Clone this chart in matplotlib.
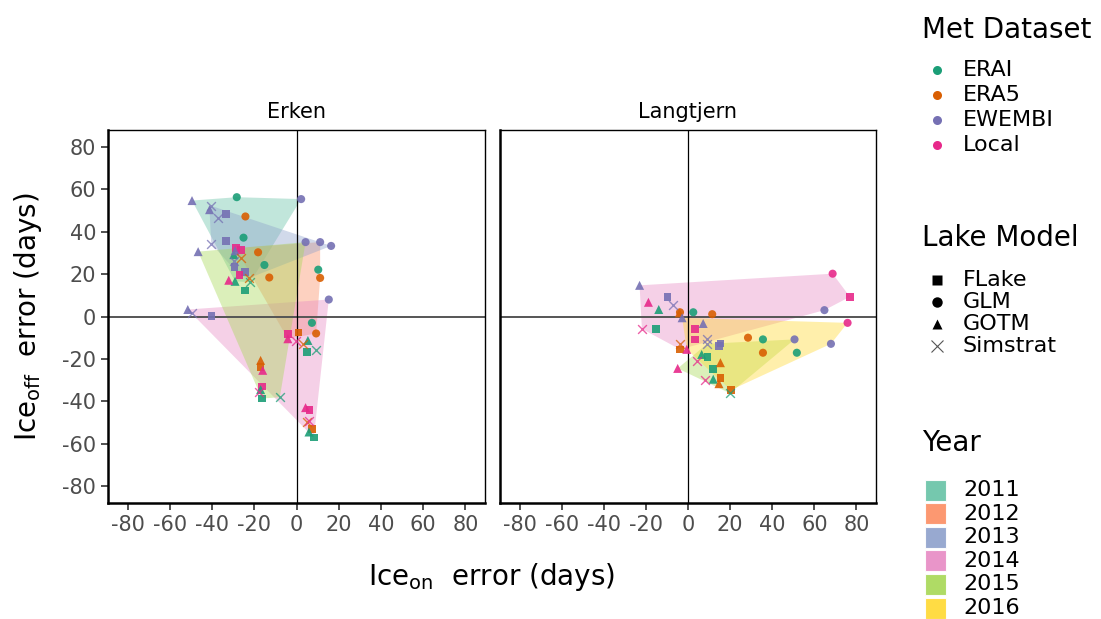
#
# Ice-on vs ice-off error per lake, coloured by met dataset, shaped by lake model,
# with a convex hull per year.
#

import numpy as np
import matplotlib
matplotlib.use('Agg')
from matplotlib import pyplot as plt
from matplotlib.patches import Polygon, Rectangle

met_names = ['ERAI', 'ERA5', 'EWEMBI', 'Local']
model_names = ['FLake', 'GLM', 'GOTM', 'Simstrat']
years = [2011, 2012, 2013, 2014, 2015, 2016]

# Erken (grouped by year)
erken_x = [-49.5, -28.3, 2.2, -21.9, -37.3, -24.2, -33.3, -29.1, -25.1, -26.2,          # 2011
           -28.6, 11.2, 11.2, 9.3, 1.0, -4.1, -4.1, -18.2, -26.2, -12.9, 10.3,          # 2012
           -41.2, -40.4, 16.4, -33.3, -29.5, -24.3, -22.3, -27.0, -29.1, -40.4,         # 2013
           -51.5, -49.4, -40.3, 15.3, 7.3, -0.2, 5.4, 5.1, 9.3, 3.0, 4.3, 6.2, 5.7,
           5.2, 7.3, 5.9, 8.2,                                                         # 2014
           -46.6, 4.3, -7.9, -16.3, -17.0, -16.3, -17.8, -15.2, -29.4, -32.1, -17.0,
           -17.0, -16.0, -29.7, -24.3]                                                 # 2015
erken_y = [54.7, 56.3, 55.4, 16.2, 46.4, 47.2, 48.5, 16.6, 37.2, 31.5,
           32.3, 35.1, 18.2, -8.0, -7.6, -8.2, -10.5, 30.3, 27.6, 18.4, 22.1,
           50.4, 52.2, 33.3, 35.5, 26.0, 21.0, 18.2, 19.5, 31.0, 34.4,
           3.3, 1.7, 0.2, 8.0, -3.0, -11.6, -11.3, -16.8, -16.0, -13.2, -43.0, -44.1, -49.3,
           -49.8, -53.2, -54.5, -57.1,
           30.6, 35.1, -38.1, -38.7, -34.5, -33.1, -35.5, 24.3, 23.4, 17.1, -20.7,
           -23.8, -25.4, 29.2, 12.2]
erken_met = ['EWEMBI', 'ERAI', 'EWEMBI', 'ERAI', 'EWEMBI', 'ERA5', 'EWEMBI', 'ERAI', 'ERAI', 'Local',
             'Local', 'EWEMBI', 'ERA5', 'ERA5', 'ERA5', 'Local', 'Local', 'ERA5', 'ERA5', 'ERA5', 'ERAI',
             'EWEMBI', 'EWEMBI', 'EWEMBI', 'EWEMBI', 'EWEMBI', 'EWEMBI', 'ERA5', 'Local', 'EWEMBI', 'EWEMBI',
             'EWEMBI', 'EWEMBI', 'EWEMBI', 'EWEMBI', 'ERAI', 'Local', 'ERAI', 'ERAI', 'ERAI', 'ERA5',
             'Local', 'Local', 'Local', 'ERA5', 'ERA5', 'ERAI', 'ERAI',
             'EWEMBI', 'EWEMBI', 'ERAI', 'ERAI', 'ERAI', 'Local', 'Local', 'ERAI', 'EWEMBI', 'Local',
             'ERA5', 'ERA5', 'Local', 'ERAI', 'ERAI']
erken_model = ['GOTM', 'GLM', 'GLM', 'Simstrat', 'Simstrat', 'GLM', 'FLake', 'GOTM', 'GLM', 'FLake',
               'FLake', 'GLM', 'GLM', 'GLM', 'FLake', 'FLake', 'GOTM', 'GLM', 'Simstrat', 'GLM', 'GLM',
               'GOTM', 'Simstrat', 'GLM', 'FLake', 'Simstrat', 'FLake', 'Simstrat', 'FLake', 'GOTM', 'Simstrat',
               'GOTM', 'Simstrat', 'FLake', 'GLM', 'GLM', 'Simstrat', 'GOTM', 'FLake', 'Simstrat', 'Simstrat',
               'GOTM', 'FLake', 'Simstrat', 'Simstrat', 'FLake', 'GOTM', 'FLake',
               'GOTM', 'GLM', 'Simstrat', 'FLake', 'GOTM', 'FLake', 'Simstrat', 'GLM', 'FLake', 'GOTM',
               'GOTM', 'FLake', 'GOTM', 'GOTM', 'FLake']
erken_year = [2011]*10 + [2012]*11 + [2013]*10 + [2014]*17 + [2015]*15

# Langtjern
lang_x = [-23.0, -18.8, -9.8, -6.9, -13.9, -4.1, -21.9, -15.1, -3.8, -3.8, 68.7, 76.9, 64.8,
          2.5, 11.5, -3.8,                                                              # 2014
          50.6, 19.9, -4.9, 4.1, 6.5, 12.0, 15.4, 12.0, 14.7, 8.0, 9.1, 15.4,           # 2015
          75.8, 67.9, -2.8, -0.6, 20.3, 7.2, 3.3, 3.3, 9.1, 14.8, 28.5, 35.6, 35.6,
          51.7, 15.4, 9.3]                                                              # 2016
lang_y = [14.7, 6.7, 9.3, 5.2, 3.3, 1.7, -5.8, -5.8, -12.9, -15.5, 20.2, 9.3, 3.0,
          2.0, 1.1, 2.0,
          -10.8, -36.2, -24.5, -21.0, -17.9, -24.9, -28.9, -29.6, -31.7, -30.1, -12.9, -12.8,
          -3.0, -12.9, -0.6, -15.5, -34.7, -3.3, -5.8, -10.8, -10.8, -13.9, -10.0, -10.8, -17.1,
          -17.1, -21.8, -19.0]
lang_met = ['EWEMBI', 'Local', 'EWEMBI', 'EWEMBI', 'ERAI', 'ERA5', 'Local', 'ERAI', 'ERA5', 'ERA5',
            'Local', 'Local', 'EWEMBI', 'ERAI', 'ERA5', 'ERA5',
            'EWEMBI', 'ERAI', 'Local', 'Local', 'ERAI', 'ERAI', 'ERA5', 'ERAI', 'ERA5', 'Local',
            'EWEMBI', 'EWEMBI',
            'Local', 'EWEMBI', 'EWEMBI', 'Local', 'ERA5', 'EWEMBI', 'Local', 'Local', 'EWEMBI',
            'EWEMBI', 'ERA5', 'ERAI', 'ERA5', 'ERAI', 'ERA5', 'ERAI']
lang_model = ['GOTM', 'GOTM', 'FLake', 'Simstrat', 'GOTM', 'GOTM', 'Simstrat', 'FLake', 'Simstrat',
              'FLake', 'GLM', 'FLake', 'GLM', 'GLM', 'GLM', 'GLM',
              'GLM', 'Simstrat', 'GOTM', 'Simstrat', 'GOTM', 'FLake', 'FLake', 'GOTM', 'GOTM',
              'Simstrat', 'Simstrat', 'FLake',
              'GLM', 'GLM', 'GOTM', 'GOTM', 'FLake', 'GOTM', 'FLake', 'FLake', 'Simstrat', 'FLake',
              'GLM', 'GLM', 'GLM', 'GLM', 'GOTM', 'FLake']
lang_year = [2014]*16 + [2015]*12 + [2016]*16

met_col = {'ERAI': '#1b9e77', 'ERA5': '#d95f02', 'EWEMBI': '#7570b3', 'Local': '#e7298a'}
model_mk = {'FLake': 's', 'GLM': 'o', 'GOTM': '^', 'Simstrat': 'x'}
model_sz = {'FLake': 30, 'GLM': 34, 'GOTM': 42, 'Simstrat': 40}
year_col = {2011: '#66c2a5', 2012: '#fc8d62', 2013: '#8da0cb',
            2014: '#e78ac3', 2015: '#a6d854', 2016: '#ffd92f'}

plt.rcParams['font.family'] = 'DejaVu Sans'
plt.rcParams['axes.unicode_minus'] = False
plt.rcParams['mathtext.default'] = 'regular'

W, H = 1101, 619
fig = plt.figure(figsize=(W/100, H/100), dpi=100)

def convex_hull(pts):
    pts = sorted(set(pts))
    if len(pts) < 3:
        return pts
    def cross(o, a, b):
        return (a[0]-o[0])*(b[1]-o[1]) - (a[1]-o[1])*(b[0]-o[0])
    lower = []
    for p in pts:
        while len(lower) >= 2 and cross(lower[-2], lower[-1], p) <= 0:
            lower.pop()
        lower.append(p)
    upper = []
    for p in reversed(pts):
        while len(upper) >= 2 and cross(upper[-2], upper[-1], p) <= 0:
            upper.pop()
        upper.append(p)
    return lower[:-1] + upper[:-1]

def draw_panel(ax, xs, ys, mets, models, yrs, title, ylabels):
    for yr in years:
        pts = [(xs[i], ys[i]) for i in range(len(xs)) if yrs[i] == yr]
        if len(pts) < 3:
            continue
        ax.add_patch(Polygon(convex_hull(pts), closed=True, facecolor=year_col[yr],
                             edgecolor='none', alpha=0.4, zorder=1))
    ax.axhline(0, color='#555555', lw=1.4, zorder=2)
    ax.axvline(0, color='black', lw=0.9, zorder=2)
    for mo in model_names:
        for me in met_names:
            idx = [i for i in range(len(xs)) if mets[i] == me and models[i] == mo]
            if not idx:
                continue
            px = [xs[i] for i in idx]
            py = [ys[i] for i in idx]
            if mo == 'Simstrat':
                ax.scatter(px, py, marker='x', s=model_sz[mo], color=met_col[me],
                           linewidths=1.0, alpha=0.75, zorder=3)
            else:
                ax.scatter(px, py, marker=model_mk[mo], s=model_sz[mo], color=met_col[me],
                           edgecolors='none', alpha=0.9, zorder=3)
    ax.set_xlim(-89.3, 89.3)
    ax.set_ylim(-88, 88)
    ax.set_xticks(np.arange(-80, 81, 20))
    ax.set_yticks(np.arange(-80, 81, 20))
    ax.tick_params(labelsize=15, labelcolor='#4d4d4d', color='#333333', length=5, width=1.2)
    if not ylabels:
        ax.tick_params(left=False, labelleft=False)
    for s in ['top', 'right']:
        ax.spines[s].set_linewidth(1.0)
    for s in ['left', 'bottom']:
        ax.spines[s].set_linewidth(1.8)
    ax.set_title(title, fontsize=15, pad=9)

ax1 = fig.add_axes([108/W, 1-503/H, 377/W, 373/H])
ax2 = fig.add_axes([500/W, 1-503/H, 376/W, 373/H])
draw_panel(ax1, erken_x, erken_y, erken_met, erken_model, erken_year, 'Erken', True)
draw_panel(ax2, lang_x, lang_y, lang_met, lang_model, lang_year, 'Langtjern', False)

fig.text(492/W, 1-577/H, r'Ice$_{on}$  error (days)', fontsize=20, ha='center', va='center')
fig.text(28/W, 1-317/H, r'Ice$_{off}$  error (days)', fontsize=20, ha='center', va='center',
         rotation=90)

# Legends drawn by hand on an overlay in pixel units
lax = fig.add_axes([0, 0, 1, 1])
lax.set_xlim(0, W)
lax.set_ylim(H, 0)
lax.axis('off')

lax.text(922, 30, 'Met Dataset', fontsize=20, va='center', ha='left')
for i, me in enumerate(met_names):
    yy = 70 + 25*i
    lax.plot([937], [yy], marker='o', ms=6.5, color=met_col[me], mec='none', ls='none')
    lax.text(963, yy, me, fontsize=16, va='center', ha='left')

lax.text(922, 238, 'Lake Model', fontsize=20, va='center', ha='left')
for i, mo in enumerate(model_names):
    yy = 280 + 22*i
    if mo == 'Simstrat':
        lax.plot([937], [yy], marker='x', ms=8, color='#555555', mew=0.8, ls='none')
    else:
        lax.plot([937], [yy], marker=model_mk[mo], ms=7.5 if mo != 'FLake' else 6.5,
                 color='black', mec='none', ls='none')
    lax.text(963, yy, mo, fontsize=16, va='center', ha='left')

lax.text(922, 443, 'Year', fontsize=20, va='center', ha='left')
for i, yr in enumerate(years):
    yy = 490 + 23.6*i
    lax.add_patch(Rectangle((925, yy-10.5), 21, 21, facecolor=year_col[yr], alpha=0.9,
                            edgecolor='white', lw=0.8))
    lax.text(963, yy, str(yr), fontsize=16, va='center', ha='left')

plt.savefig('out.png', dpi=100)
